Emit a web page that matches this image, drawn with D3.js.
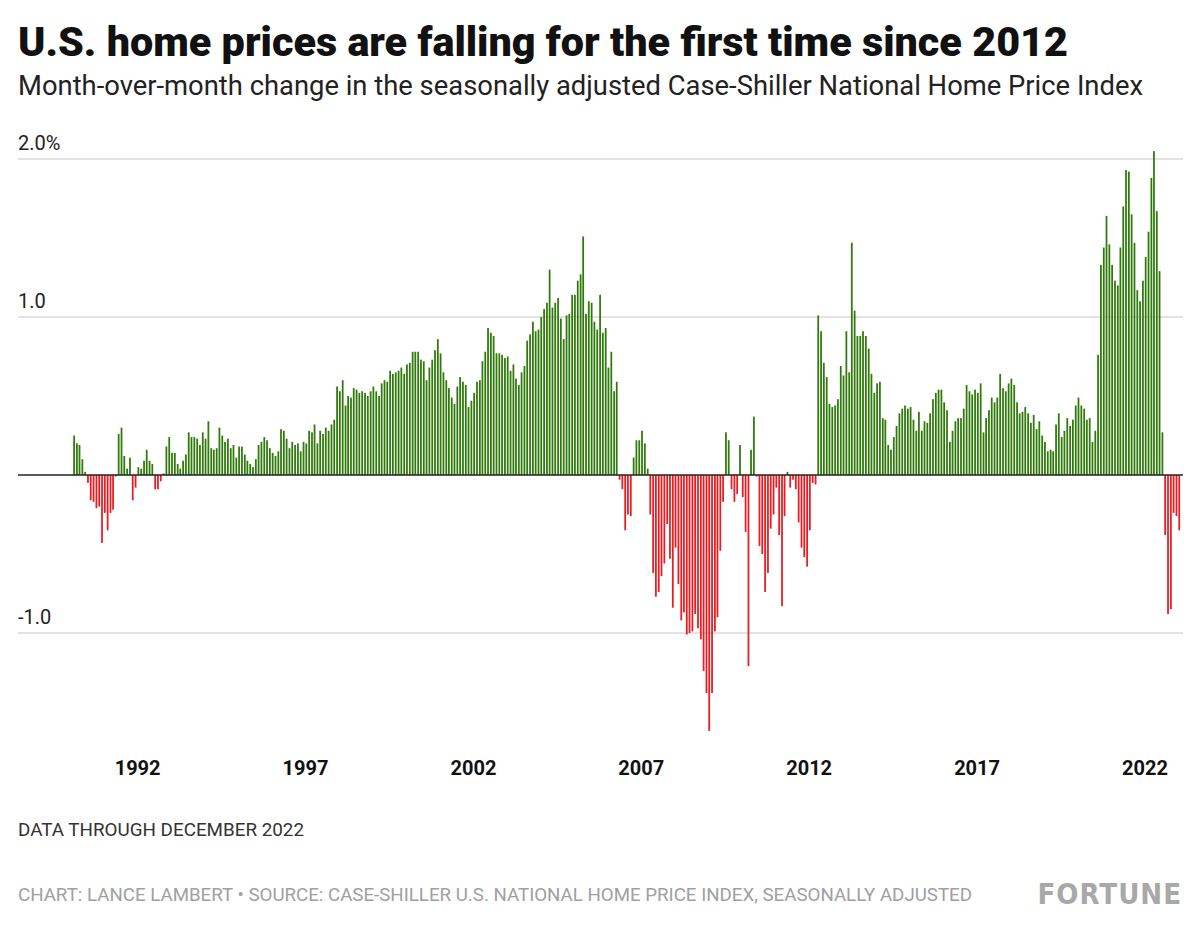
<!DOCTYPE html>
<html>
<head>
<meta charset="utf-8">
<script src="https://cdn.jsdelivr.net/npm/d3@7"></script>
<style>
  body { margin: 0; background: #fff; }
  text { font-family: Roboto, "Liberation Sans", sans-serif; }
</style>
</head>
<body>
<svg id="chart" width="1200" height="931"></svg>
<script>
// month-over-month % change, Jan 1990 .. Dec 2022
const startYear = 1990;
const values1990s = [
  0.25, 0.20, 0.19, 0.10, 0.02, -0.05, -0.16, -0.17, -0.21, -0.20, -0.43, -0.24,
  -0.35, -0.24, -0.22, -0.01, 0.26, 0.30, 0.12, 0.04, 0.11, -0.16, -0.08, 0.05,
  0.04, 0.09, 0.16, 0.09, 0.07, -0.09, -0.09, -0.04, 0.01, 0.18, 0.24, 0.14,
  0.14, 0.07, 0.04, 0.09, 0.13, 0.27, 0.24, 0.24, 0.23, 0.19, 0.27, 0.23,
  0.34, 0.17, 0.16, 0.17, 0.30, 0.25, 0.21, 0.23, 0.17, 0.19, 0.11, 0.18,
  0.18, 0.13, 0.09, 0.07, 0.05, 0.10, 0.19, 0.21, 0.24, 0.22, 0.17, 0.14,
  0.12, 0.15, 0.29, 0.28, 0.23, 0.17, 0.21, 0.19, 0.20, 0.15, 0.21, 0.20,
  0.28, 0.27, 0.32, 0.20, 0.28, 0.26, 0.30, 0.28, 0.32, 0.35, 0.56, 0.53,
  0.60, 0.44, 0.50, 0.49, 0.55, 0.54, 0.52, 0.53, 0.52, 0.50, 0.53, 0.56,
  0.53, 0.50, 0.58, 0.60, 0.59, 0.66, 0.64, 0.65, 0.66, 0.68, 0.64, 0.70
];
const values2000s = [
  0.71, 0.78, 0.78, 0.78, 0.73, 0.72, 0.60, 0.68, 0.73, 0.79, 0.86, 0.77,
  0.65, 0.60, 0.55, 0.49, 0.45, 0.56, 0.62, 0.59, 0.57, 0.43, 0.47, 0.52,
  0.59, 0.60, 0.72, 0.78, 0.93, 0.90, 0.88, 0.77, 0.77, 0.76, 0.74, 0.75,
  0.66, 0.70, 0.61, 0.57, 0.65, 0.69, 0.85, 0.89, 0.97, 0.91, 0.92, 1.00,
  1.05, 1.09, 1.30, 1.06, 1.09, 1.12, 0.99, 0.86, 1.01, 1.02, 1.14, 1.14,
  1.23, 1.27, 1.51, 1.02, 1.10, 1.09, 0.97, 0.92, 1.14, 0.90, 0.93, 0.68,
  0.78, 0.53, 0.59, -0.03, -0.09, -0.35, -0.25, -0.26, 0.11, 0.22, 0.22, 0.28,
  0.20, 0.04, -0.25, -0.62, -0.77, -0.74, -0.64, -0.56, -0.31, -0.53, -0.84, -0.46,
  -0.69, -0.92, -0.87, -1.01, -1.00, -0.99, -0.88, -0.97, -1.04, -1.24, -1.38, -1.62,
  -1.38, -0.99, -0.90, -0.48, -0.17, 0.27, 0.22, -0.09, -0.17, -0.12, 0.19, -0.14
];
const values2010s = [
  -0.36, -1.21, 0.16, 0.37, -0.01, -0.45, -0.50, -0.74, -0.62, -0.34, -0.25, -0.08,
  -0.38, -0.83, -0.26, 0.02, -0.08, -0.03, -0.09, -0.30, -0.46, -0.52, -0.58, -0.35,
  -0.05, -0.06, 1.01, 0.91, 0.71, 0.62, 0.45, 0.43, 0.44, 0.48, 0.69, 0.63,
  0.91, 0.65, 1.47, 1.04, 0.88, 0.88, 0.91, 0.88, 0.80, 0.64, 0.52, 0.58,
  0.59, 0.36, 0.35, 0.19, 0.16, 0.24, 0.31, 0.39, 0.42, 0.44, 0.42, 0.43,
  0.35, 0.28, 0.40, 0.28, 0.34, 0.33, 0.39, 0.48, 0.52, 0.54, 0.54, 0.46,
  0.41, 0.21, 0.28, 0.34, 0.36, 0.36, 0.42, 0.57, 0.53, 0.51, 0.54, 0.52,
  0.58, 0.27, 0.36, 0.41, 0.49, 0.46, 0.49, 0.64, 0.55, 0.53, 0.58, 0.61,
  0.57, 0.46, 0.39, 0.40, 0.43, 0.39, 0.33, 0.38, 0.29, 0.34, 0.25, 0.21,
  0.15, 0.16, 0.15, 0.32, 0.39, 0.24, 0.28, 0.36, 0.31, 0.35, 0.44, 0.49
];
const values2020s = [
  0.44, 0.42, 0.35, 0.36, 0.21, 0.28, 0.76, 1.33, 1.44, 1.64, 1.46, 1.33,
  1.23, 1.20, 1.44, 1.70, 1.93, 1.92, 1.65, 1.47, 1.17, 1.10, 1.23, 1.38,
  1.54, 1.88, 2.05, 1.67, 1.29, 0.27, -0.38, -0.88, -0.85, -0.24, -0.26, -0.35
];
const tickYears = [1992, 1997, 2002, 2007, 2012, 2017, 2022];
const yTicks = [2, 1, -1];

const data = values1990s.concat(values2000s, values2010s, values2020s)
  .map((v, i) => ({ date: new Date(startYear + Math.floor(i / 12), i % 12, 1), value: v }));

const svg = d3.select('#chart');

const x = d3.scaleTime()
  .domain([new Date(startYear, 0, 1), new Date(2023, 0, 1)])
  .range([73, 1181]);
const barW = (x(new Date(1990, 1, 1)) - x(new Date(1990, 0, 1))) * 0.62;

const y = d3.scaleLinear().domain([-2, 2]).range([791, 159]);

// title + subtitle
svg.append('text')
  .attr('x', 18).attr('y', 56)
  .attr('textLength', 1050).attr('lengthAdjust', 'spacingAndGlyphs')
  .style('font-size', '40px').style('font-weight', 900).style('fill', '#111')
  .text('U.S. home prices are falling for the first time since 2012');
svg.append('text')
  .attr('x', 18).attr('y', 95)
  .attr('textLength', 1125).attr('lengthAdjust', 'spacingAndGlyphs')
  .style('font-size', '27px').style('fill', '#222')
  .text('Month-over-month change in the seasonally adjusted Case-Shiller National Home Price Index');

// gridlines
svg.selectAll('.grid')
  .data(yTicks)
  .join('line')
  .attr('class', 'grid')
  .attr('x1', 18).attr('x2', 1183)
  .attr('y1', d => y(d)).attr('y2', d => y(d))
  .attr('stroke', '#c8c8c8').attr('stroke-width', 1.2);

svg.selectAll('.ylab')
  .data(yTicks)
  .join('text')
  .attr('class', 'ylab')
  .attr('x', 18)
  .attr('y', d => y(d) - 9)
  .style('font-size', '20px').style('fill', '#222')
  .text(d => d === 2 ? '2.0%' : d3.format('.1f')(d).replace('−', '-'));

// bars
svg.selectAll('.bar')
  .data(data)
  .join('rect')
  .attr('class', 'bar')
  .attr('x', d => x(d.date) + 0.2)
  .attr('width', barW)
  .attr('y', d => d.value >= 0 ? y(d.value) : y(0))
  .attr('height', d => Math.abs(y(d.value) - y(0)))
  .attr('fill', d => d.value >= 0 ? '#2f7a0b' : '#ea1c22');

// zero line
svg.append('line')
  .attr('x1', 18).attr('x2', 1183)
  .attr('y1', y(0)).attr('y2', y(0))
  .attr('stroke', '#222').attr('stroke-width', 1.5);

// x axis
const xAxis = d3.axisBottom(x)
  .tickValues(tickYears.map(yr => new Date(yr, 0, 1)))
  .tickFormat(d3.timeFormat('%Y'))
  .tickSize(0);
const gx = svg.append('g')
  .attr('transform', 'translate(-3,758)')
  .call(xAxis);
gx.select('.domain').remove();
gx.selectAll('text')
  .style('font-family', 'Roboto, sans-serif')
  .style('font-size', '20px').style('font-weight', 700).style('fill', '#111');

// footer
svg.append('text')
  .attr('x', 18).attr('y', 836)
  .attr('textLength', 286).attr('lengthAdjust', 'spacingAndGlyphs')
  .style('font-size', '18px').style('fill', '#333')
  .text('DATA THROUGH DECEMBER 2022');
svg.append('text')
  .attr('x', 18).attr('y', 901)
  .attr('textLength', 954).attr('lengthAdjust', 'spacingAndGlyphs')
  .style('font-size', '18px').style('fill', '#a0a0a0')
  .text('CHART: LANCE LAMBERT \u2022 SOURCE: CASE-SHILLER U.S. NATIONAL HOME PRICE INDEX, SEASONALLY ADJUSTED');
svg.append('text')
  .attr('x', 1182).attr('y', 904)
  .attr('text-anchor', 'end')
  .style('font-size', '29px').style('font-weight', 700).style('fill', '#a8a8a8')
  .style('font-family', '"Liberation Sans Narrow", "DejaVu Sans Condensed", sans-serif')
  .style('letter-spacing', '1px')
  .text('FORTUNE');
</script>
</body>
</html>
